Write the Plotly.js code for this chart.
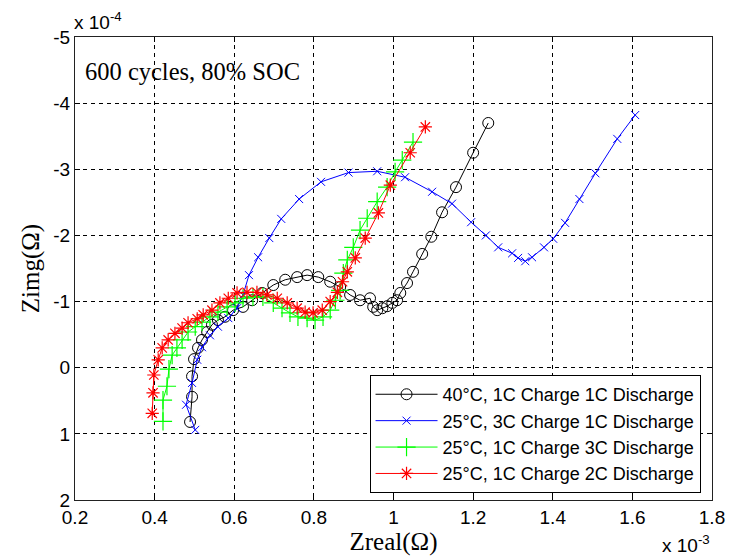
<!DOCTYPE html>
<html>
<head>
<meta charset="utf-8">
<script src="https://cdn.plot.ly/plotly-3.0.1.min.js"></script>
<style>html,body{margin:0;padding:0;background:#fff}#chart{width:731px;height:557px}</style>
</head>
<body>
<div id="chart"></div>
<script>
// Zreal in units of 1e-3 Ohm, Zimg in units of 1e-4 Ohm
const seriesNames = [
  "40°C, 1C Charge 1C Discharge",
  "25°C, 3C Charge 1C Discharge",
  "25°C, 1C Charge 3C Discharge",
  "25°C, 1C Charge 2C Discharge"
];

const blackX = [0.489,0.494,0.494,0.499,0.509,0.519,0.532,0.544,0.559,0.577,0.597,0.622,0.645,0.670,0.698,0.728,0.758,0.783,0.811,0.841,0.866,0.891,0.916,0.941,0.949,0.959,0.972,0.984,0.997,1.009,1.017,1.034,1.049,1.072,1.095,1.122,1.157,1.200,1.238];
const blackY = [0.82,0.44,0.13,-0.13,-0.30,-0.42,-0.54,-0.65,-0.72,-0.77,-0.87,-0.92,-1.02,-1.13,-1.25,-1.33,-1.37,-1.40,-1.37,-1.30,-1.22,-1.10,-1.02,-1.05,-0.92,-0.87,-0.90,-0.93,-0.98,-1.02,-1.13,-1.28,-1.45,-1.72,-1.98,-2.35,-2.73,-3.25,-3.70];

const blueX = [0.502,0.479,0.494,0.507,0.519,0.539,0.559,0.585,0.607,0.622,0.637,0.660,0.688,0.718,0.763,0.818,0.887,0.959,1.029,1.097,1.147,1.195,1.232,1.263,1.298,1.313,1.331,1.348,1.378,1.401,1.431,1.467,1.507,1.562,1.607];
const blueY = [0.94,0.56,0.23,-0.12,-0.31,-0.49,-0.62,-0.75,-0.90,-1.10,-1.40,-1.67,-1.96,-2.25,-2.55,-2.81,-2.95,-2.97,-2.88,-2.66,-2.48,-2.20,-2.00,-1.82,-1.73,-1.66,-1.61,-1.67,-1.82,-1.95,-2.19,-2.55,-2.94,-3.46,-3.82];

const greenX = [0.421,0.421,0.431,0.436,0.444,0.456,0.469,0.484,0.502,0.519,0.539,0.559,0.582,0.602,0.622,0.647,0.672,0.698,0.720,0.740,0.760,0.783,0.803,0.823,0.841,0.854,0.866,0.874,0.884,0.899,0.916,0.934,0.959,0.984,1.004,1.022,1.049];
const greenY = [0.81,0.49,0.28,0.02,-0.19,-0.30,-0.42,-0.54,-0.62,-0.69,-0.77,-0.84,-0.92,-0.98,-1.05,-1.07,-1.07,-0.98,-0.90,-0.83,-0.77,-0.75,-0.72,-0.77,-0.87,-1.02,-1.17,-1.43,-1.63,-1.82,-2.08,-2.26,-2.51,-2.73,-2.96,-3.14,-3.41];

const redX = [0.394,0.396,0.398,0.409,0.419,0.434,0.451,0.469,0.484,0.507,0.522,0.544,0.564,0.585,0.607,0.632,0.657,0.682,0.708,0.733,0.758,0.778,0.798,0.821,0.841,0.859,0.872,0.884,0.904,0.929,0.962,0.992,1.042,1.080];
const redY = [0.69,0.38,0.11,-0.12,-0.30,-0.42,-0.52,-0.60,-0.68,-0.74,-0.80,-0.87,-0.98,-1.05,-1.13,-1.14,-1.14,-1.10,-1.05,-0.98,-0.90,-0.84,-0.83,-0.87,-1.00,-1.14,-1.30,-1.45,-1.66,-1.96,-2.34,-2.76,-3.25,-3.64];

const xTicks = [0.2,0.4,0.6,0.8,1.0,1.2,1.4,1.6,1.8];
const xTickText = ["0.2","0.4","0.6","0.8","1","1.2","1.4","1.6","1.8"];
const yTicks = [-5,-4,-3,-2,-1,0,1,2];
const yTickText = ["-5","-4","-3","-2","-1","0","1","2"];

const traces = [
  {x: blackX, y: blackY, name: seriesNames[0], mode: "lines+markers",
   line: {color: "#000000", width: 1},
   marker: {symbol: "circle-open", size: 11, color: "#000000", line: {width: 1}}},
  {x: blueX, y: blueY, name: seriesNames[1], mode: "lines+markers",
   line: {color: "#0000ff", width: 1},
   marker: {symbol: "x-thin-open", size: 8, color: "#0000ff", line: {width: 1, color: "#0000ff"}}},
  {x: greenX, y: greenY, name: seriesNames[2], mode: "lines+markers",
   line: {color: "#00ff00", width: 1},
   marker: {symbol: "cross-thin-open", size: 13, color: "#00ff00", line: {width: 1.2, color: "#00ff00"}}},
  {x: redX, y: redY, name: seriesNames[3], mode: "lines+markers",
   line: {color: "#ff0000", width: 1},
   marker: {symbol: "asterisk-open", size: 11, color: "#ff0000", line: {width: 1.2, color: "#ff0000"}}}
];

const axisCommon = {
  showline: true, linecolor: "#222", linewidth: 1, mirror: "allticks",
  ticks: "inside", ticklen: 5, tickcolor: "#000", tickwidth: 1,
  showgrid: true, gridcolor: "#000", gridwidth: 1, griddash: "4px,4px",
  zeroline: false,
  tickfont: {family: "Liberation Sans, Arial, sans-serif", size: 19, color: "#000"}
};

const layout = {
  width: 731, height: 557,
  margin: {l: 75, r: 19, t: 37, b: 57},
  paper_bgcolor: "#fff", plot_bgcolor: "#fff",
  showlegend: true,
  xaxis: Object.assign({}, axisCommon, {
    range: [0.2, 1.8], tickmode: "array", tickvals: xTicks, ticktext: xTickText,
    title: {text: "Zreal(Ω)", font: {family: "Liberation Serif, Times New Roman, serif", size: 25, color: "#000"}, standoff: 4}
  }),
  yaxis: Object.assign({}, axisCommon, {
    range: [2, -5], tickmode: "array", tickvals: yTicks, ticktext: yTickText,
    title: {text: "Zimg(Ω)", font: {family: "Liberation Serif, Times New Roman, serif", size: 25, color: "#000"}, standoff: 6}
  }),
  legend: {
    x: 0.982, y: 0.015, xanchor: "right", yanchor: "bottom",
    bgcolor: "#fff", bordercolor: "#000", borderwidth: 1,
    font: {family: "Liberation Sans, Arial, sans-serif", size: 18, color: "#000"},
    tracegroupgap: 0, itemwidth: 62
  },
  annotations: [
    {xref: "paper", yref: "paper", x: 0.012, y: 0.925, xanchor: "left", yanchor: "middle",
     text: "600 cycles, 80% SOC", showarrow: false,
     font: {family: "Liberation Serif, Times New Roman, serif", size: 24.5, color: "#000"}},
    {xref: "paper", yref: "paper", x: -0.005, y: 1.0, yshift: 2, xanchor: "left", yanchor: "bottom",
     text: "x 10<sup>-4</sup>", showarrow: false,
     font: {family: "Liberation Sans, Arial, sans-serif", size: 19, color: "#000"}},
    {xref: "paper", yref: "paper", x: 1.0, y: 0, yshift: -30, xanchor: "right", yanchor: "top",
     text: "x 10<sup>-3</sup>", showarrow: false,
     font: {family: "Liberation Sans, Arial, sans-serif", size: 19, color: "#000"}}
  ]
};

Plotly.newPlot("chart", traces, layout, {displayModeBar: false, staticPlot: true});
</script>
</body>
</html>
